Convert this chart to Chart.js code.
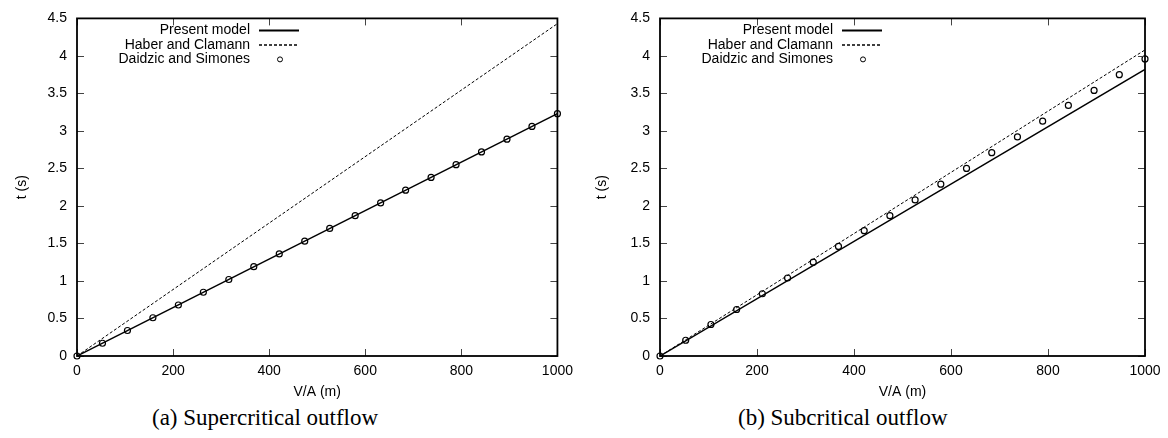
<!DOCTYPE html>
<html>
<head>
<meta charset="utf-8">
<script src="https://cdn.jsdelivr.net/npm/chart.js@4.4.0/dist/chart.umd.min.js"></script>
<style>
    body { margin: 0; background: #fff; }
    #fig { position: relative; width: 1168px; height: 438px; }
    .panel { position: absolute; top: 0; height: 405px; }
    .caption { position: absolute; top: 405px; font-family: "Liberation Serif", "Times New Roman", serif; font-size: 23px; color: #000; white-space: nowrap; }
</style>
</head>
<body>
<div id="fig">
    <div class="panel" style="left:0;width:580px"><canvas id="graficoSuper"></canvas></div>
    <div class="panel" style="left:580px;width:588px"><canvas id="graficoSub"></canvas></div>
    <div class="caption" id="capA">(a) Supercritical outflow</div>
    <div class="caption" id="capB">(b) Subcritical outflow</div>
</div>
<script>
//datos
const xModelo = [0, 1000];
const xExperimento = [0, 53, 105, 158, 211, 263, 316, 368, 421, 474, 526, 579, 632, 684, 737, 789, 842, 895, 947, 1000];

// (a) supercritico
const superPresente = [0, 3.23];
const superHaber = [0, 4.43];
const superDaidzic = [0, 0.17, 0.34, 0.51, 0.68, 0.85, 1.02, 1.19, 1.36, 1.53, 1.70, 1.87, 2.04, 2.21, 2.38, 2.55, 2.72, 2.89, 3.06, 3.23];

// (b) subcritico
const subPresente = [0, 3.82];
const subHaber = [0, 4.08];
const subDaidzic = [0, 0.21, 0.42, 0.62, 0.83, 1.04, 1.25, 1.46, 1.67, 1.87, 2.08, 2.29, 2.50, 2.71, 2.92, 3.13, 3.34, 3.54, 3.75, 3.96];

const etiquetas = ['Present model', 'Haber and Clamann', 'Daidzic and Simones'];
const yTicks = [0, 0.5, 1, 1.5, 2, 2.5, 3, 3.5, 4, 4.5];
const xTicks = [0, 200, 400, 600, 800, 1000];

const fuente = '"Liberation Sans", Arial, sans-serif';
Chart.defaults.font.family = fuente;
Chart.defaults.font.size = 14;
Chart.defaults.color = '#000';

const pares = (xs, ys) => xs.map((x, i) => ({x: x, y: ys[i]}));

//marco, ticks hacia adentro y leyenda tipo gnuplot
const marcoGnuplot = {
    id: 'marcoGnuplot',
    afterDatasetsDraw(chart) {
        const ctx = chart.ctx;
        const a = chart.chartArea;
        const xs = chart.scales.x, ys = chart.scales.y;
        ctx.save();
        ctx.strokeStyle = '#444';
        ctx.lineWidth = 1;
        const tl = 7;
        ctx.beginPath();
        xTicks.forEach(v => {
            const px = Math.round(xs.getPixelForValue(v)) + 0.5;
            ctx.moveTo(px, a.bottom); ctx.lineTo(px, a.bottom - tl);
            ctx.moveTo(px, a.top); ctx.lineTo(px, a.top + tl);
        });
        yTicks.forEach(v => {
            const py = Math.round(ys.getPixelForValue(v)) + 0.5;
            ctx.moveTo(a.left, py); ctx.lineTo(a.left + tl, py);
            ctx.moveTo(a.right, py); ctx.lineTo(a.right - tl, py);
        });
        ctx.stroke();
        ctx.strokeStyle = '#000';
        ctx.lineWidth = 1.8;
        ctx.strokeRect(a.left, a.top, a.right - a.left, a.bottom - a.top);

        // leyenda
        ctx.font = '14px ' + fuente;
        ctx.fillStyle = '#000';
        ctx.textAlign = 'right';
        ctx.textBaseline = 'middle';
        chart.data.datasets.forEach((ds, i) => {
            const y = a.top + 12 + i * 14.5;
            const xt = a.left + 173;
            ctx.fillText(ds.label, xt, y);
            ctx.strokeStyle = '#000';
            if (ds.showLine === false) {
                ctx.lineWidth = 1;
                ctx.fillStyle = '#fff';
                ctx.beginPath();
                ctx.arc(xt + 30, y, 2.5, 0, Math.PI * 2);
                ctx.fill();
                ctx.stroke();
                ctx.fillStyle = '#000';
            } else {
                ctx.lineWidth = ds.borderWidth + 0.5;
                ctx.setLineDash(ds.borderDash || []);
                ctx.beginPath();
                ctx.moveTo(xt + 9, y);
                ctx.lineTo(xt + 49, y);
                ctx.stroke();
                ctx.setLineDash([]);
            }
        });
        ctx.restore();
    }
};

const formato = v => String(parseFloat(Number(v).toFixed(2)));

function crearGrafico(id, presente, haber, daidzic, anchoY, padDerecha) {
    return new Chart(document.getElementById(id), {
        type: 'scatter',
        data: {
            datasets: [{
                label: etiquetas[0],
                data: pares(xModelo, presente),
                showLine: true,
                borderColor: '#000',
                borderWidth: 1.5,
                pointRadius: 0
            }, {
                label: etiquetas[1],
                data: pares(xModelo, haber),
                showLine: true,
                borderColor: '#000',
                borderWidth: 1,
                borderDash: [3, 2],
                pointRadius: 0
            }, {
                label: etiquetas[2],
                data: pares(xExperimento, daidzic),
                showLine: false,
                pointStyle: 'circle',
                pointRadius: 3,
                borderColor: '#000',
                backgroundColor: 'rgba(255,255,255,0)',
                pointBorderWidth: 1.2,
                clip: false
            }]
        },
        options: {
            responsive: true,
            maintainAspectRatio: false,
            animation: false,
            layout: { padding: { top: 13, right: padDerecha, bottom: 0, left: 0 } },
            plugins: { legend: { display: false }, tooltip: { enabled: false } },
            scales: {
                x: {
                    type: 'linear',
                    min: 0,
                    max: 1000,
                    grid: { display: false, drawTicks: false },
                    border: { display: false },
                    ticks: { stepSize: 200, padding: 7, maxRotation: 0, callback: formato },
                    title: { display: true, text: 'V/A (m)', padding: { top: 0, bottom: 4 } },
                    afterFit: s => { s.height = 49; }
                },
                y: {
                    type: 'linear',
                    min: 0,
                    max: 4.5,
                    grid: { display: false, drawTicks: false },
                    border: { display: false },
                    ticks: { stepSize: 0.5, padding: 10, callback: formato },
                    title: { display: true, text: 't (s)', padding: { top: 14, bottom: 0 } },
                    afterFit: s => { s.width = anchoY; }
                }
            }
        },
        plugins: [marcoGnuplot]
    });
}

let graficoSuper = crearGrafico('graficoSuper', superPresente, superHaber, superDaidzic, 77, 17);
let graficoSub = crearGrafico('graficoSub', subPresente, subHaber, subDaidzic, 80, 23);

//captions
document.getElementById('capA').style.left = (265 - document.getElementById('capA').offsetWidth / 2) + 'px';
document.getElementById('capB').style.left = (843 - document.getElementById('capB').offsetWidth / 2) + 'px';
</script>
</body>
</html>
